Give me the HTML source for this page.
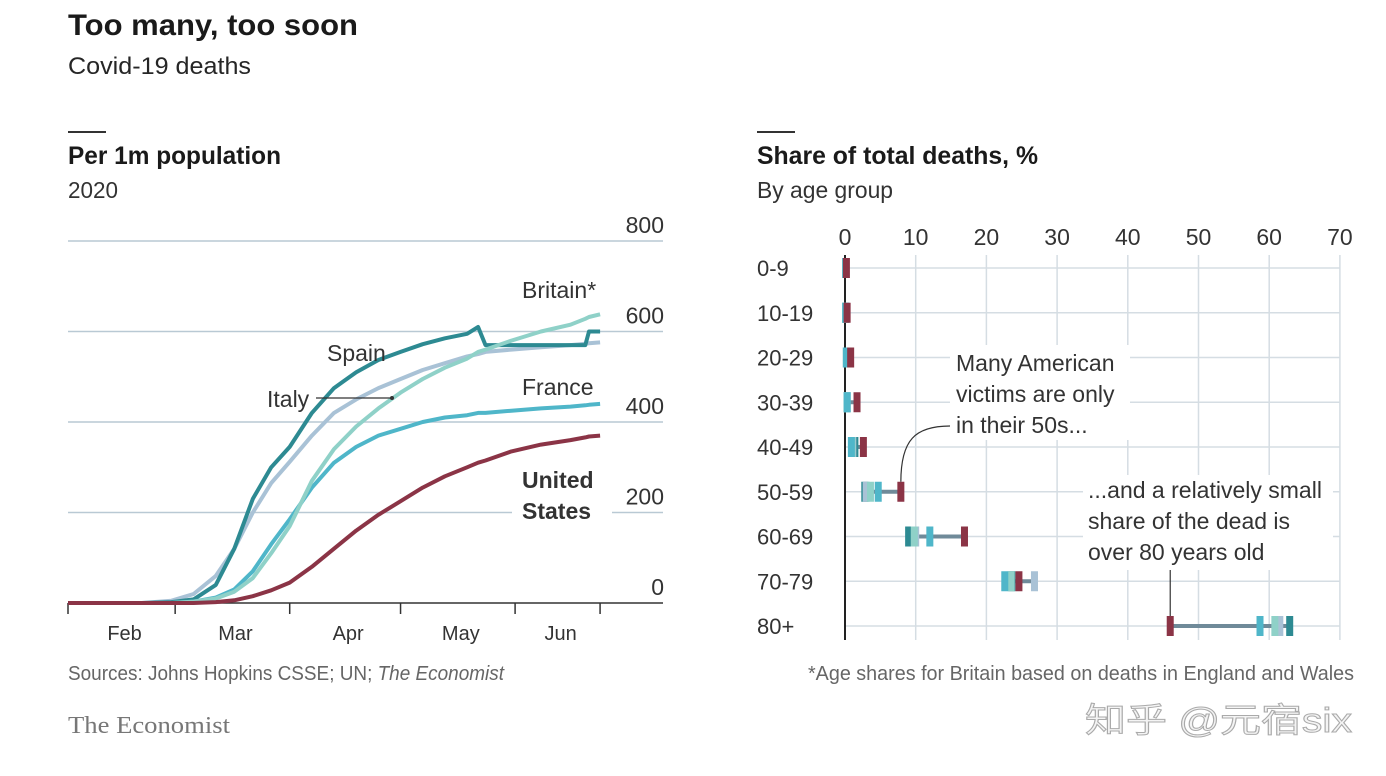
<!DOCTYPE html>
<html><head><meta charset="utf-8"><style>
body{margin:0;background:#fff;}
svg{display:block;font-family:"Liberation Sans","Noto Sans CJK SC",sans-serif;}
</style></head><body>
<svg id="s" width="1386" height="776" viewBox="0 0 1386 776">
<text x="68" y="35" font-size="30" font-weight="bold" fill="#1a1a1a" textLength="290" lengthAdjust="spacingAndGlyphs">Too many, too soon</text>
<text x="68" y="74" font-size="24" fill="#262626" textLength="183" lengthAdjust="spacingAndGlyphs">Covid-19 deaths</text>
<rect x="68" y="131" width="38" height="2" fill="#333"/>
<text x="68" y="164" font-size="25" font-weight="bold" fill="#1a1a1a" textLength="213" lengthAdjust="spacingAndGlyphs">Per 1m population</text>
<text x="68" y="198" font-size="23" fill="#333" textLength="50" lengthAdjust="spacingAndGlyphs">2020</text>
<rect x="757" y="131" width="38" height="2" fill="#333"/>
<text x="757" y="164" font-size="25" font-weight="bold" fill="#1a1a1a" textLength="281" lengthAdjust="spacingAndGlyphs">Share of total deaths, %</text>
<text x="757" y="198" font-size="23" fill="#333" textLength="136" lengthAdjust="spacingAndGlyphs">By age group</text>
<g id="left"></g>
<g id="right"></g>
<text x="68" y="680" font-size="20" fill="#666" textLength="436" lengthAdjust="spacingAndGlyphs">Sources: Johns Hopkins CSSE; UN; <tspan font-style="italic">The Economist</tspan></text>
<text x="808" y="680" font-size="20" fill="#666" textLength="546" lengthAdjust="spacingAndGlyphs">*Age shares for Britain based on deaths in England and Wales</text>
<text x="68" y="733" font-size="24" fill="#777" font-family="Liberation Serif,serif" textLength="162" lengthAdjust="spacingAndGlyphs">The Economist</text>
<text x="1085" y="732" font-size="34" fill="#f4f4f4" stroke="#aaa" stroke-width="1" textLength="267" lengthAdjust="spacingAndGlyphs">知乎 @元宿six</text>
</svg>
<script>
const NS="http://www.w3.org/2000/svg";
// Left chart data
const days=[0,20,28,34,40,45,50,55,60,66,72,78,84,90,96,102,108,111,113,120,128,136,140,141,144];
const spain=[0,0,2,8,40,120,230,300,345,420,475,510,537,555,572,585,595,610,570,570,570,570,570,600,600];
const italy=[0,0,5,20,60,120,200,265,312,370,420,450,475,495,515,530,545,550,555,560,565,570,573,574,576];
const britain=[0,0,0,3,10,25,55,110,170,270,340,390,430,465,495,520,540,555,560,580,600,615,628,632,638];
const france=[0,0,0,3,12,30,70,130,185,255,310,345,370,385,400,410,415,420,420,425,430,434,437,438,440];
const us=[0,0,0,0,2,6,15,28,45,80,120,160,195,225,255,280,300,310,315,335,350,360,366,368,370];
const yTicks=[0,200,400,600,800];
const monthLabels=["Feb","Mar","Apr","May","Jun"];
const monthDays=[0,29,60,90,121];
// Right chart data
const ageGroups=["0-9","10-19","20-29","30-39","40-49","50-59","60-69","70-79","80+"];
const shUS=[0.2,0.3,0.8,1.7,2.6,7.9,16.9,24.6,46];
const shBritain=[0.1,0.1,0.2,0.3,1.0,3.6,9.8,23.5,60.8];
const shFrance=[0.1,0.1,0.2,0.3,0.9,4.7,12,22.6,58.7];
const shItaly=[0.1,0.1,0.2,0.3,1.1,3.0,10,26.8,61.5];
const shSpain=[0.1,0.1,0.2,0.3,1.4,2.8,9.0,23.6,62.9];
const xTicks=[0,10,20,30,40,50,60,70];

function mk(p,tag,a){const e=document.createElementNS(NS,tag);for(const k in a)e.setAttribute(k,a[k]);p.appendChild(e);return e;}
const L=document.getElementById('left'),R=document.getElementById('right');
const lx=d=>68+d*3.695, ly=v=>603-v*0.4525;
yTicks.forEach(t=>{
 const g=mk(L,'line',{x1:68,x2:663,y1:ly(t),y2:ly(t),stroke:t==0?'#333':'#b9c9d4','stroke-width':1.5});
 
 
 const tx=mk(L,'text',{x:664,y:ly(t)-8,'text-anchor':'end','font-size':23,fill:'#333'});tx.textContent=t;
 
 
});
monthDays.concat([144]).forEach(d=>{const t=mk(L,'line',{x1:lx(d),x2:lx(d),y1:603,y2:614,stroke:'#333','stroke-width':1.5});
 
 });
monthLabels.forEach((m,i)=>{const mid=i<4?(monthDays[i]+monthDays[i+1])/2:(121+144)/2;
 const t=mk(L,'text',{x:lx(mid)+3,y:640,'text-anchor':'middle','font-size':20,fill:'#333'});t.textContent=m;
 
 });
mk(L,'rect',{x:512,y:462,width:100,height:62,fill:'#fff'});
function line(vals,col,name,w){const d=vals.map((v,i)=>(i?'L':'M')+lx(days[i]).toFixed(1)+','+ly(v).toFixed(1)).join('');
 const p=mk(L,'path',{d:d,fill:'none',stroke:col,'stroke-width':w||4,'stroke-linejoin':'round'});
 
 }
line(italy,'#a9c2d6','line-italy');
line(spain,'#2d8a92','line-spain');
line(france,'#4fb6c9','line-france');
line(britain,'#8fd1c8','line-britain');
line(us,'#8b3446','line-united-states');
function lab(p,x,y,t,name,extra){const e=mk(p,'text',Object.assign({x:x,y:y,'font-size':23,fill:'#333'},extra||{}));e.textContent=t;
 
 return e;}
lab(L,327,361,'Spain','label-spain');
lab(L,267,407,'Italy','label-italy');
mk(L,'line',{x1:316,x2:392,y1:398,y2:398,stroke:'#333','stroke-width':1.2});
mk(L,'circle',{cx:392,cy:398,r:2,fill:'#333'});
lab(L,522,298,'Britain*','label-britain');
lab(L,522,395,'France','label-france');
lab(L,522,488,'United','label-united-states',{'font-weight':'bold'});
lab(L,522,519,'States','label-united-states-2',{'font-weight':'bold'});
// Right chart
const rx=v=>845+v*7.07, ry=i=>268+i*44.75;
xTicks.forEach(t=>{const g=mk(R,'line',{x1:rx(t),x2:rx(t),y1:255,y2:640,stroke:'#d5dde3','stroke-width':1.5});
 
 
 const tx=mk(R,'text',{x:rx(t),y:245,'text-anchor':'middle','font-size':23,fill:'#333'});tx.textContent=t;
 
 });
ageGroups.forEach((a,i)=>{const g=mk(R,'line',{x1:845,x2:1340,y1:ry(i),y2:ry(i),stroke:'#d5dde3','stroke-width':1.5});
 
 
 const tx=mk(R,'text',{x:757,y:ry(i)+8,'font-size':22,fill:'#333'});tx.textContent=a;
 
 });
mk(R,'rect',{x:950,y:345,width:180,height:95,fill:'#fff'});
mk(R,'rect',{x:1083,y:475,width:250,height:95,fill:'#fff'});
mk(R,'line',{x1:845,x2:845,y1:255,y2:640,stroke:'#222','stroke-width':2});
const series=[[shSpain,'#2d8a92','spain'],[shItaly,'#a9c2d6','italy'],[shBritain,'#8fd1c8','britain'],[shFrance,'#4fb6c9','france'],[shUS,'#8b3446','united-states']];
ageGroups.forEach((a,i)=>{const vs=series.map(s=>s[0][i]);const mn=Math.min(...vs),mx=Math.max(...vs);
 const c=mk(R,'line',{x1:rx(mn),x2:rx(mx),y1:ry(i),y2:ry(i),stroke:'#6f8a99','stroke-width':4});
 
 
 series.forEach(s=>{const m=mk(R,'rect',{x:rx(s[0][i])-3.5,y:ry(i)-10,width:7,height:20,fill:s[1]});
  
  });
});
lab(R,956,371,'Many American','annotation-50s');
lab(R,956,402,'victims are only','annotation-50s-2');
lab(R,956,433,'in their 50s...','annotation-50s-3');
mk(R,'path',{d:'M'+rx(7.9)+','+(ry(5)-10)+' C'+rx(7.9)+',440 915,426 950,426',fill:'none',stroke:'#333','stroke-width':1.2});
lab(R,1088,498,'...and a relatively small','annotation-80s');
lab(R,1088,529,'share of the dead is','annotation-80s-2');
lab(R,1088,560,'over 80 years old','annotation-80s-3');
mk(R,'line',{x1:rx(46),x2:rx(46),y1:570,y2:ry(8)-10,stroke:'#333','stroke-width':1.2});
</script>
</body></html>
